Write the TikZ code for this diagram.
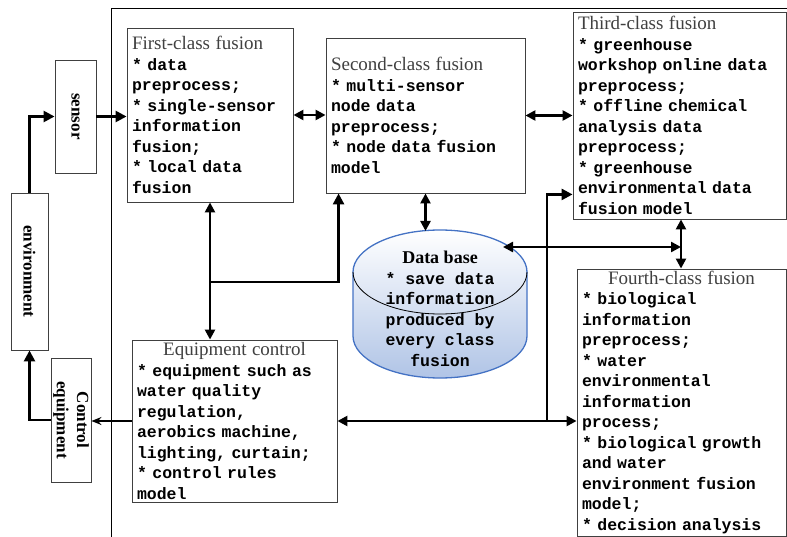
\documentclass[tikz,border=0pt]{standalone}
\usepackage{fontspec}
\setmainfont{Liberation Serif}
\newfontfamily\monofam{Liberation Mono}
\usepackage{graphicx}
\usetikzlibrary{arrows.meta}

\definecolor{ttlgray}{RGB}{64,64,64}
\definecolor{dbfill}{RGB}{176,196,230}
\definecolor{dbline}{RGB}{68,114,196}

\newcommand\bodyf{\monofam\bfseries\fontsize{16.5}{20.5}\selectfont}
\newcommand\ttlf{\rmfamily\mdseries\fontsize{19}{20.5}\selectfont\color{ttlgray}}
\newcommand\sidef{\rmfamily\bfseries\fontsize{17}{20}\selectfont}
\newcommand\starmark{*\ }

\tikzset{
  fusionbox/.style={draw=black!75, line width=0.9pt, fill=white, inner xsep=5pt, inner ysep=0pt, align=left, font=\bodyf},
  sidebox/.style={draw=black!75, line width=0.9pt, fill=white, inner sep=0pt, font=\sidef},
  thickarr/.style={line width=2.6pt, -{Triangle[length=11pt,width=11pt]}},
  dblarr/.style={line width=2.4pt, {Triangle[length=10pt,width=10pt]}-{Triangle[length=10pt,width=10pt]}},
  thinarr/.style={line width=1.4pt, -{Stealth[length=10pt,width=8pt]}},
}

\begin{document}
\begin{tikzpicture}[x=1pt,y=-1pt]
  \useasboundingbox (0,0) rectangle (787,537);
  \draw[line width=0.9pt] (111,537) -- (111,8) -- (787,8); % frame

  % side boxes
  \node[sidebox, minimum width=41pt, minimum height=113pt] (sensor) at (75.5,116.5) {\rotatebox{-90}{sensor}};
  \node[sidebox, minimum width=37pt, minimum height=157pt] (env) at (29.5,271.5) {\rotatebox{-90}{environment}};
  \node[sidebox, minimum width=40pt, minimum height=124pt] (ctrl) at (71,420) {\rotatebox{-90}{\begin{tabular}{@{}c@{}}Control\\ equipment\end{tabular}}};

  % fusion boxes
  \node[fusionbox, text width=156pt, minimum height=174pt] (first) at (210,115)
    {{\ttlf First-class fusion}\\ \starmark data\\ preprocess;\\ \starmark single-sensor\\ information\\ fusion;\\ \starmark local data\\ fusion};
  \node[fusionbox, text width=189pt, minimum height=155pt] (second) at (425.5,115.5)
    {{\ttlf Second-class fusion}\\ \starmark multi-sensor\\ node data\\ preprocess;\\ \starmark node data fusion\\ model};
  \node[fusionbox, text width=203pt, minimum height=207pt] (third) at (679.5,115.5)
    {{\ttlf Third-class fusion}\\ \starmark greenhouse\\ workshop online data\\ preprocess;\\ \starmark offline chemical\\ analysis data\\ preprocess;\\ \starmark greenhouse\\ environmental data\\ fusion model};
  \node[fusionbox, text width=199pt, minimum height=267pt] (fourth) at (681.5,402.5)
    {\makebox[\linewidth]{\ttlf Fourth-class fusion}\\ \starmark biological\\ information\\ preprocess;\\ \starmark water\\ environmental\\ information\\ process;\\ \starmark biological growth\\ and water\\ environment fusion\\ model;\\ \starmark decision analysis};
  \node[fusionbox, text width=195pt, minimum height=162pt] (equip) at (234.5,421)
    {\makebox[\linewidth]{\ttlf Equipment control}\\ \starmark equipment such as\\ water quality\\ regulation,\\ aerobics machine,\\ lighting, curtain;\\ \starmark control rules\\ model};

  % data base
  \path[draw=dbline, line width=1.3pt, top color=white, bottom color=dbfill]
    (353,272) -- (353,336) arc[start angle=180, end angle=360, x radius=87pt, y radius=42pt]
    -- (527,272) arc[start angle=0, end angle=180, x radius=87pt, y radius=42pt] -- cycle;
  \draw[line width=0.8pt] (353,272) arc[start angle=180, end angle=360, x radius=87pt, y radius=42pt];
  \node[font=\bodyf, align=center] (db) at (440,309)
    {{\rmfamily\bfseries\fontsize{18}{20.5}\selectfont Data base}\\ \starmark save data\\ information\\ produced by\\ every class\\ fusion};
  \coordinate (dbtop) at (425.5,231);
  \coordinate (dbedge) at (503,247);
  \coordinate (jn) at (681,247);
  \coordinate (br) at (210,282);
  \coordinate (tj) at (547,421);

  % connectors
  \draw[thickarr] (env.north) |- (sensor.west);
  \draw[thickarr] (sensor.east) -- (sensor.east -| first.west);
  \draw[dblarr] (first.east) -- (first.east -| second.west);
  \draw[dblarr] (second.east) -- (second.east -| third.west);
  \draw[dblarr] (second.south) -- (dbtop);
  \draw[dblarr] (dbedge) -- (jn);
  \draw[dblarr] (third.south -| jn) -- (fourth.north -| jn);
  \draw[dblarr] (first.south) -- (first.south |- equip.north);
  \draw[thickarr] (br) -| ([xshift=13pt]second.south west);
  \draw[dblarr] (equip.east) -- (equip.east -| fourth.west);
  \draw[thickarr] (tj) |- ([yshift=25pt]third.south west);
  \draw[thinarr] (equip.west) -- (equip.west -| ctrl.east);
  \draw[thickarr] (ctrl.west) -| (env.south);
\end{tikzpicture}
\end{document}
